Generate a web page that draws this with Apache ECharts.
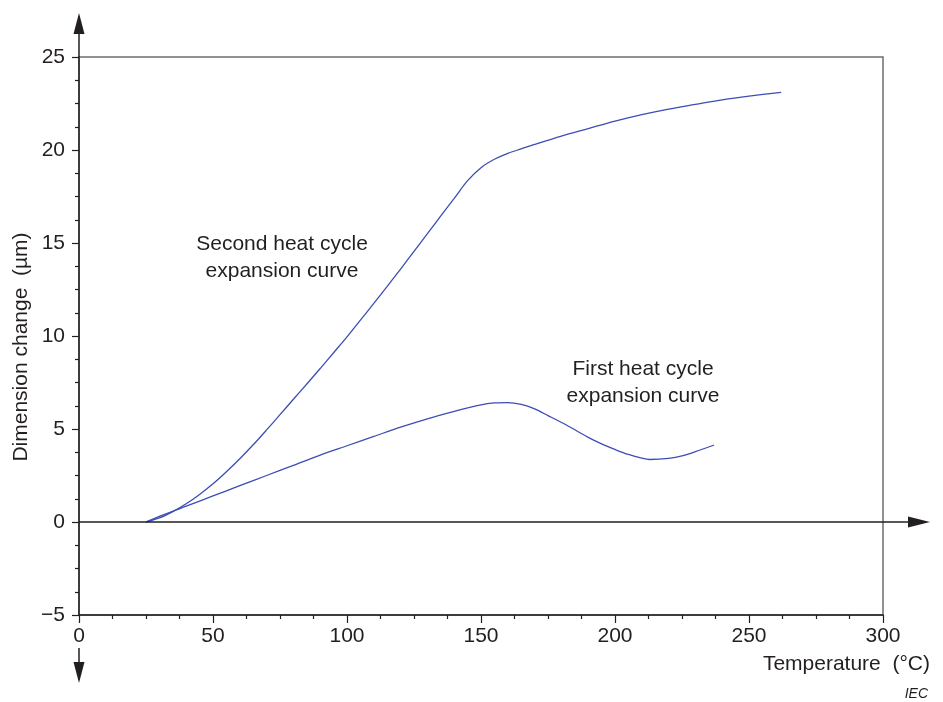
<!DOCTYPE html>
<html>
<head>
<meta charset="utf-8">
<script src="https://cdn.jsdelivr.net/npm/echarts@6.0.0/dist/echarts.min.js"></script>
<style>
  html, body { margin: 0; padding: 0; background: #fff; }
  #main { width: 943px; height: 702px; }
</style>
</head>
<body>
<div id="main"></div>
<script>
// second heat cycle (temperature °C, dimension change µm)
const secondTemp = [25, 30, 35, 40, 45, 50, 55, 60, 65, 70, 75, 80, 85, 90, 95, 100, 105, 110, 115, 120, 125, 130, 135, 140, 145, 150, 155, 160, 165, 170, 180, 190, 200, 210, 220, 230, 240, 250, 262]
const secondVal = [0, 0.22, 0.56, 0.98, 1.48, 2.05, 2.7, 3.4, 4.15, 4.95, 5.77, 6.6, 7.42, 8.25, 9.1, 9.95, 10.85, 11.75, 12.67, 13.6, 14.55, 15.5, 16.46, 17.4, 18.35, 19.05, 19.5, 19.82, 20.06, 20.3, 20.75, 21.15, 21.55, 21.9, 22.2, 22.45, 22.7, 22.9, 23.1]

// first heat cycle
const firstTemp = [25, 30, 40, 50, 60, 70, 80, 90, 100, 110, 120, 130, 140, 150, 155, 160, 165, 170, 175, 182, 190, 195, 200, 205, 210, 213, 220, 225, 230, 237]
const firstVal = [0, 0.3, 0.85, 1.4, 1.95, 2.5, 3.05, 3.6, 4.1, 4.6, 5.1, 5.55, 5.95, 6.3, 6.4, 6.42, 6.32, 6.08, 5.72, 5.2, 4.55, 4.2, 3.9, 3.63, 3.43, 3.36, 3.42, 3.55, 3.78, 4.14]

const xTicks = [0, 50, 100, 150, 200, 250, 300]
const yTicks = [-5, 0, 5, 10, 15, 20, 25]

const pair = (xs, ys) => xs.map((x, i) => [x, ys[i]])

const FONT = 'Liberation Sans, Arial, sans-serif'
const INK = '#231f20'
const CURVE = '#3c4db5'

const chart = echarts.init(document.getElementById('main'))

chart.setOption({
  animation: false,
  backgroundColor: '#fff',
  grid: {
    left: 79,
    top: 57,
    right: 60,
    bottom: 87,
    containLabel: false,
    outerBoundsMode: 'none',
    show: true,
    borderColor: '#6e6e6e',
    borderWidth: 1.5
  },
  xAxis: {
    type: 'value',
    min: xTicks[0],
    max: xTicks[xTicks.length - 1],
    interval: 50,
    axisLine: { onZero: false, lineStyle: { color: INK, width: 1.5 } },
    axisTick: { length: 8, lineStyle: { color: INK, width: 1.2 } },
    minorTick: { show: true, splitNumber: 4, length: 4, lineStyle: { color: INK, width: 1.2 } },
    splitLine: { show: false },
    axisLabel: { fontFamily: FONT, fontSize: 21, color: INK, margin: 11 }
  },
  yAxis: {
    type: 'value',
    min: yTicks[0],
    max: yTicks[yTicks.length - 1],
    interval: 5,
    axisLine: { show: true, onZero: false, lineStyle: { color: INK, width: 1.5 } },
    axisTick: { show: true, length: 7, lineStyle: { color: INK, width: 1.2 } },
    minorTick: { show: true, splitNumber: 4, length: 4, lineStyle: { color: INK, width: 1.2 } },
    splitLine: { show: false },
    axisLabel: {
      fontFamily: FONT,
      fontSize: 21,
      color: INK,
      margin: 14,
      formatter: (v) => String(v).replace('-', '\u2212')
    }
  },
  series: [
    {
      type: 'line',
      data: pair(secondTemp, secondVal),
      showSymbol: false,
      smooth: 0.3,
      lineStyle: { color: CURVE, width: 1.3 },
      z: 5
    },
    {
      type: 'line',
      data: pair(firstTemp, firstVal),
      showSymbol: false,
      smooth: 0.3,
      lineStyle: { color: CURVE, width: 1.3 },
      z: 5
    }
  ]
})

// axis extensions and arrows, placed from the axis scales
const g = { gridIndex: 0 }
const origin = chart.convertToPixel(g, [0, 0])
const yTop = chart.convertToPixel(g, [0, 25])
const yBot = chart.convertToPixel(g, [0, -5])
const xEnd = chart.convertToPixel(g, [300, 0])
const ax = origin[0]
const lineStyle = { stroke: INK, lineWidth: 1.5 }

chart.setOption({
  graphic: [
    // vertical axis, upward extension + arrow
    { type: 'line', shape: { x1: ax, y1: yTop[1] - 24, x2: ax, y2: yTop[1] }, style: lineStyle, z: 10 },
    { type: 'polygon', shape: { points: [[ax, yTop[1] - 44], [ax - 5.5, yTop[1] - 23], [ax + 5.5, yTop[1] - 23]] }, style: { fill: INK }, z: 10 },
    // downward arrow under the axis
    { type: 'line', shape: { x1: ax, y1: yBot[1] + 33, x2: ax, y2: yBot[1] + 49 }, style: lineStyle, z: 10 },
    { type: 'polygon', shape: { points: [[ax, yBot[1] + 68], [ax - 5.5, yBot[1] + 47], [ax + 5.5, yBot[1] + 47]] }, style: { fill: INK }, z: 10 },
    // zero line with arrow
    { type: 'line', shape: { x1: ax, y1: origin[1], x2: xEnd[0] + 26, y2: origin[1] }, style: lineStyle, z: 10 },
    { type: 'polygon', shape: { points: [[xEnd[0] + 47, origin[1]], [xEnd[0] + 25, origin[1] - 5.5], [xEnd[0] + 25, origin[1] + 5.5]] }, style: { fill: INK }, z: 10 },
    // axis titles
    {
      type: 'text', x: 21, y: 347, rotation: Math.PI / 2,
      style: { text: 'Dimension change  (µm)', font: '21px ' + FONT, fill: INK, align: 'center', verticalAlign: 'middle' }
    },
    {
      type: 'text', x: 930, y: 664,
      style: { text: 'Temperature  (°C)', font: '21px ' + FONT, fill: INK, align: 'right', verticalAlign: 'middle' }
    },
    {
      type: 'text', x: 928, y: 694,
      style: { text: 'IEC', font: 'italic 14px ' + FONT, fill: INK, align: 'right', verticalAlign: 'middle' }
    },
    // curve annotations
    {
      type: 'text', x: 282, y: 258,
      style: { text: 'Second heat cycle\nexpansion curve', font: '21px ' + FONT, lineHeight: 27, fill: INK, align: 'center', verticalAlign: 'middle' }
    },
    {
      type: 'text', x: 643, y: 383,
      style: { text: 'First heat cycle\nexpansion curve', font: '21px ' + FONT, lineHeight: 27, fill: INK, align: 'center', verticalAlign: 'middle' }
    }
  ]
})
</script>
</body>
</html>
